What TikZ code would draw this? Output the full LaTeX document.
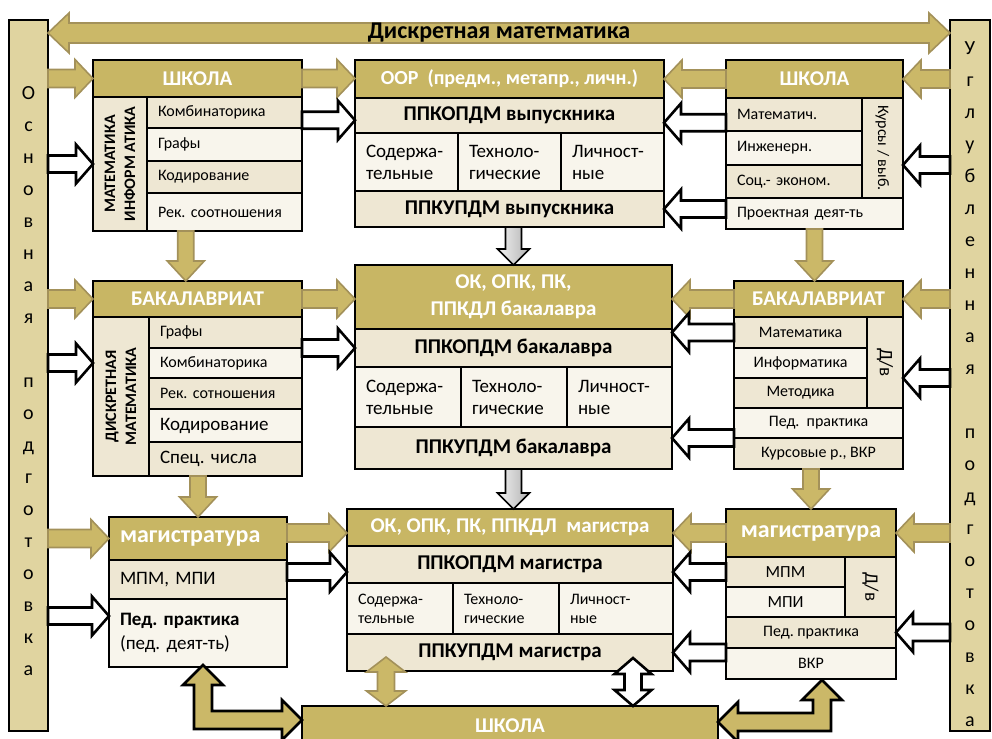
\documentclass[tikz,border=0pt]{standalone}
\usepackage{fontspec}
\setmainfont{Carlito}
\frenchspacing
\usetikzlibrary{calc,positioning}

\definecolor{hdrgold}{HTML}{C8B664}
\definecolor{rowdark}{HTML}{EEE7D3}
\definecolor{rowlight}{HTML}{F8F5EC}
\definecolor{barfill}{HTML}{E0D4A0}
\definecolor{arrgold}{HTML}{CBB868}
\definecolor{arrdark}{HTML}{A3915A}

\begin{document}
\begin{tikzpicture}[
    x=1pt, y=-1pt,
    box/.style={draw, line width=2.4pt, outer sep=0pt, inner sep=0pt, anchor=north west},
    hdr/.style={box, fill=hdrgold, text=white, align=center, font=\fontsize{21}{27}\selectfont\bfseries},
    rowa/.style={box, fill=rowdark},
    rowb/.style={box, fill=rowlight},
    lcell/.style={text width=#1, inner xsep=11pt, align=left},
    sidebar/.style={box, fill=barfill, line width=2.8pt, align=center, font=\fontsize{20}{32}\selectfont},
    txtsmall/.style={font=\fontsize{16}{19}\selectfont},
    txtmid/.style={font=\fontsize{19}{22}\selectfont},
    txtsub/.style={font=\fontsize{16}{19}\selectfont},
    txtbig/.style={font=\fontsize{19}{24}\selectfont},
    txtbold/.style={font=\fontsize{21}{25}\selectfont\bfseries},
    coltxt/.style={align=center, font=\fontsize{16}{20}\selectfont\bfseries},
    coltxtr/.style={font=\fontsize{16}{19}\selectfont},
    titletxt/.style={font=\fontsize{24}{28}\selectfont\bfseries},
    arr shaft/.store in=\arrshaft, arr head/.store in=\arrhead, arr len/.store in=\arrlen,
    arr shaft=9pt, arr head=19pt, arr len=18pt,
    single block/.style={to path={
      ($(\tikztostart)!\arrshaft!90:(\tikztotarget)$)
      -- ($(\tikztotarget)!\arrlen!(\tikztostart)!\arrshaft!-90:(\tikztostart)$)
      -- ($(\tikztotarget)!\arrlen!(\tikztostart)!\arrhead!-90:(\tikztostart)$)
      -- (\tikztotarget)
      -- ($(\tikztotarget)!\arrlen!(\tikztostart)!\arrhead!90:(\tikztostart)$)
      -- ($(\tikztotarget)!\arrlen!(\tikztostart)!\arrshaft!90:(\tikztostart)$)
      -- ($(\tikztostart)!\arrshaft!-90:(\tikztotarget)$)
      -- cycle}},
    double block/.style={to path={
      -- ($(\tikztostart)!\arrlen!(\tikztotarget)!\arrhead!-90:(\tikztostart)$)
      -- ($(\tikztostart)!\arrlen!(\tikztotarget)!\arrshaft!-90:(\tikztostart)$)
      -- ($(\tikztotarget)!\arrlen!(\tikztostart)!\arrshaft!-90:(\tikztostart)$)
      -- ($(\tikztotarget)!\arrlen!(\tikztostart)!\arrhead!-90:(\tikztostart)$)
      -- (\tikztotarget)
      -- ($(\tikztotarget)!\arrlen!(\tikztostart)!\arrhead!90:(\tikztostart)$)
      -- ($(\tikztotarget)!\arrlen!(\tikztostart)!\arrshaft!90:(\tikztostart)$)
      -- ($(\tikztostart)!\arrlen!(\tikztotarget)!\arrshaft!90:(\tikztostart)$)
      -- ($(\tikztostart)!\arrlen!(\tikztotarget)!\arrhead!90:(\tikztostart)$)
      -- cycle}},
    goldarr/.style={single block, fill=arrgold, draw=arrdark, line width=1.6pt, line join=miter},
    golddbl/.style={double block, fill=arrgold, draw=arrdark, line width=1.6pt, line join=miter, arr head=19.5pt, arr len=15pt},
    whitearr/.style={single block, fill=white, draw=black, line width=2.6pt, line join=miter, arr shaft=8.5pt, arr head=19.5pt, arr len=17pt},
    whitedbl/.style={double block, fill=white, draw=black, line width=2.6pt, line join=miter, arr shaft=8.5pt, arr head=18.5pt, arr len=16pt},
    grayarr/.style={single block, left color=gray!10, right color=gray!60, draw=black, line width=1.6pt, line join=miter, arr shaft=8pt, arr head=16pt, arr len=16pt},
    bentarr/.style={fill=arrgold, draw=black, line width=2.6pt, line join=miter}
]
\useasboundingbox (0,0) rectangle (992,738);

% Side bars
\node[sidebar, minimum width=39pt, minimum height=711pt] (barL) at (9,20)
  {\rule{0pt}{24pt}О\\с\\н\\о\\в\\н\\а\\я\\[32pt]п\\о\\д\\г\\о\\т\\о\\в\\к\\а};
\node[sidebar, minimum width=40pt, minimum height=711pt] (barR) at (950,20)
  {\rule{0pt}{30pt}У\\г\\л\\у\\б\\л\\е\\н\\н\\а\\я\\[32pt]п\\о\\д\\г\\о\\т\\о\\в\\к\\а};

% School (left)
\node[hdr, minimum width=209pt, minimum height=37pt] (tlh) at (93,60) {ШКОЛА};
\node[rowa, minimum width=54pt, minimum height=134pt] (tlc) at (tlh.south west) {};
\node[coltxt, rotate=90] (tlct) at (tlc.center) {МАТЕМАТИКА\\ИНФОРМ АТИКА};
\node[rowa, txtsmall, lcell=133pt, minimum height=31pt] (tl1) at (tlc.north east) {Комбинаторика};
\node[rowb, txtsmall, lcell=133pt, minimum height=33pt, below=0pt of tl1] (tl2) {Графы};
\node[rowa, txtsmall, lcell=133pt, minimum height=32pt, below=0pt of tl2] (tl3) {Кодирование};
\node[rowb, txtsmall, lcell=133pt, minimum height=38pt, below=0pt of tl3] (tl4) {Рек. соотношения};

% Graduate (top centre)
\node[hdr, font=\fontsize{20}{24}\selectfont\bfseries, minimum width=309pt, minimum height=38pt] (tch) at (355,60) {ООР\ \ (предм., метапр., личн.)};
\node[rowa, txtbold, minimum width=309pt, minimum height=35pt, below=0pt of tch] (tcp) {ППКОПДМ выпускника};
\node[rowb, txtmid, lcell=81pt, minimum height=58pt] (tc1) at (tcp.south west) {Содержа-\\тельные};
\node[rowb, txtmid, lcell=81pt, minimum height=58pt, right=0pt of tc1] (tc2) {Техноло-\\гические};
\node[rowb, txtmid, lcell=81pt, minimum height=58pt, right=0pt of tc2] (tc3) {Личност-\\ные};
\node[rowa, txtbold, minimum width=309pt, minimum height=36pt] (tcb) at (tc1.south west) {ППКУПДМ выпускника};

% School (right)
\node[hdr, minimum width=177pt, minimum height=38pt] (trh) at (726,60) {ШКОЛА};
\node[rowa, txtsmall, lcell=114pt, minimum height=33pt] (tr1) at (trh.south west) {Математич.};
\node[rowb, txtsmall, lcell=114pt, minimum height=34pt, below=0pt of tr1] (tr2) {Инженерн.};
\node[rowa, txtsmall, lcell=114pt, minimum height=33pt, below=0pt of tr2] (tr3) {Соц.- эконом.};
\node[rowa, minimum width=41pt, minimum height=100pt] (trc) at (tr1.north east) {};
\node[coltxtr, rotate=-90] (trct) at (trc.center) {Курсы / выб.};
\node[rowb, txtsmall, lcell=155pt, minimum height=31pt] (tr4) at (tr3.south west) {Проектная деят-ть};

% Bachelor (left)
\node[hdr, minimum width=209pt, minimum height=36pt] (mlh) at (93,281) {БАКАЛАВРИАТ};
\node[rowa, minimum width=56pt, minimum height=159pt] (mlc) at (mlh.south west) {};
\node[coltxt, rotate=90] (mlct) at (mlc.center) {ДИСКРЕТНАЯ\\МАТЕМАТИКА};
\node[rowa, txtsmall, lcell=131pt, minimum height=31pt] (ml1) at (mlc.north east) {Графы};
\node[rowb, txtsmall, lcell=131pt, minimum height=30pt, below=0pt of ml1] (ml2) {Комбинаторика};
\node[rowa, txtsmall, lcell=131pt, minimum height=31pt, below=0pt of ml2] (ml3) {Рек. сотношения};
\node[rowb, txtbig, lcell=131pt, minimum height=33pt, below=0pt of ml3] (ml4) {Кодирование};
\node[rowa, txtbig, lcell=131pt, minimum height=34pt, below=0pt of ml4] (ml5) {Спец. числа};

% Bachelor (centre)
\node[hdr, minimum width=317pt, minimum height=64pt] (mch) at (355,265) {ОК, ОПК, ПК,\\ППКДЛ бакалавра};
\node[rowa, txtbold, minimum width=317pt, minimum height=38pt, below=0pt of mch] (mcp) {ППКОПДМ бакалавра};
\node[rowb, txtmid, lcell=84pt, minimum height=60pt] (mc1) at (mcp.south west) {Содержа-\\тельные};
\node[rowb, txtmid, lcell=84pt, minimum height=60pt, right=0pt of mc1] (mc2) {Техноло-\\гические};
\node[rowb, txtmid, lcell=83pt, minimum height=60pt, right=0pt of mc2] (mc3) {Личност-\\ные};
\node[rowa, txtbold, minimum width=317pt, minimum height=42pt] (mcb) at (mc1.south west) {ППКУПДМ бакалавра};

% Bachelor (right)
\node[hdr, minimum width=169pt, minimum height=36pt] (mrh) at (734,281) {БАКАЛАВРИАТ};
\node[rowa, txtsmall, minimum width=133pt, minimum height=31pt] (mr1) at (mrh.south west) {Математика};
\node[rowb, txtsmall, minimum width=133pt, minimum height=30pt, below=0pt of mr1] (mr2) {Информатика};
\node[rowa, txtsmall, minimum width=133pt, minimum height=30pt, below=0pt of mr2] (mr3) {Методика};
\node[rowa, minimum width=36pt, minimum height=91pt] (mrc) at (mr1.north east) {};
\node[coltxtr, font=\fontsize{19}{22}\selectfont, rotate=-90] (mrct) at (mrc.center) {Д/в};
\node[rowb, txtsmall, minimum width=169pt, minimum height=30pt] (mr4) at (mr3.south west) {Пед.\ \ практика};
\node[rowa, txtsmall, minimum width=169pt, minimum height=31pt, below=0pt of mr4] (mr5) {Курсовые р., ВКР};

% Master (left)
\node[hdr, font=\fontsize{24}{28}\selectfont\bfseries, lcell=156pt, minimum height=43pt] (blh) at (109,517) {магистратура};
\node[rowa, txtbig, lcell=156pt, minimum height=39pt, below=0pt of blh] (bl1) {МПМ, МПИ};
\node[rowb, txtbig, lcell=156pt, minimum height=68pt, below=0pt of bl1] (bl2) {\textbf{Пед. практика}\\(пед. деят-ть)};

% Master (centre)
\node[hdr, minimum width=326pt, minimum height=37pt] (bch) at (347,509) {ОК, ОПК, ПК, ППКДЛ\ \ магистра};
\node[rowa, txtbold, minimum width=326pt, minimum height=37pt, below=0pt of bch] (bcp) {ППКОПДМ магистра};
\node[rowb, txtsub, lcell=84pt, minimum height=51pt] (bc1) at (bcp.south west) {Содержа-\\тельные};
\node[rowb, txtsub, lcell=84pt, minimum height=51pt, right=0pt of bc1] (bc2) {Техноло-\\гические};
\node[rowb, txtsub, lcell=92pt, minimum height=51pt, right=0pt of bc2] (bc3) {Личност-\\ные};
\node[rowa, txtbold, minimum width=326pt, minimum height=37pt] (bcb) at (bc1.south west) {ППКУПДМ магистра};

% Master (right)
\node[hdr, font=\fontsize{24}{28}\selectfont\bfseries, minimum width=170pt, minimum height=48pt] (brh) at (726,509) {магистратура};
\node[rowa, font=\fontsize{17}{20}\selectfont, minimum width=119pt, minimum height=30pt] (br1) at (brh.south west) {МПМ};
\node[rowb, font=\fontsize{17}{20}\selectfont, minimum width=119pt, minimum height=30pt, below=0pt of br1] (br2) {МПИ};
\node[rowa, minimum width=51pt, minimum height=60pt] (brc) at (br1.north east) {};
\node[coltxtr, font=\fontsize{19}{22}\selectfont, rotate=-90] (brct) at (brc.center) {Д/в};
\node[rowa, txtsmall, minimum width=170pt, minimum height=31pt] (br3) at (br2.south west) {Пед. практика};
\node[rowb, txtsmall, minimum width=170pt, minimum height=31pt, below=0pt of br3] (br4) {ВКР};

% School (bottom)
\node[hdr, minimum width=416pt, minimum height=40pt] (sch) at (302,706) {ШКОЛА};

% Title arrow
\coordinate (ttlL) at ($(barL.north east)+(0,13)$);
\coordinate (ttlR) at (ttlL -| barR.west);
\draw[golddbl, arr shaft=10pt, arr head=20pt, arr len=21pt] (ttlL) to (ttlR);
\node[titletxt] (title) at ($(ttlL)!.5!(ttlR)$) {Дискретная матетматика};

% Helper points
\coordinate (kombOut) at ($(tl1.east)!.5!(tl1.south east)$);
\coordinate (matOut) at ($(tr1.west)!.5!(tr1.south west)$);
\coordinate (tlDown) at ($(tlc.south east)!.5!(tl4.south)$);
\coordinate (pedIn) at ($(bl2.north west)!.5!(bl2.west)$);
\coordinate (mpmOut) at ($(bl1.east)!.5!(bl1.east |- bcp.west)$);
\coordinate (magOut) at ($(blh.east)!.5!(blh.east |- bch.west)$);
\coordinate (gdTop) at ($(bcb.south west)+(39,-14)$);
\coordinate (wdTop) at ($(bcb.south east)+(-40,-13)$);
\coordinate (lT) at ($(bl2.south west)+(94,-2)$);
\coordinate (lE) at ($(sch.north west)+(0,14)$);
\coordinate (rT) at ($(br4.south)+(11,1)$);
\coordinate (rE) at ($(sch.north east)+(0,16)$);

% Gold arrows
\draw[goldarr] (barL.east |- tlh.west) to (tlh.west);
\draw[goldarr] (tlh.east) to (tlh.east -| tch.west);
\draw[goldarr] (trh.west) to (trh.west -| tch.east);
\draw[goldarr] (barR.west |- trh.east) to (trh.east);
\draw[goldarr] (barL.east |- mlh.west) to (mlh.west);
\draw[goldarr] (mlh.east) to (mlh.east -| mch.west);
\draw[goldarr] (mrh.west) to (mrh.west -| mch.east);
\draw[goldarr] (barR.west |- mrh.east) to (mrh.east);
\draw[goldarr] (barL.east |- blh.west) to (blh.west);
\draw[goldarr] (magOut) to (magOut -| bch.west);
\draw[goldarr] (brh.west) to (brh.west -| bch.east);
\draw[goldarr] (barR.west |- brh.east) to (brh.east);

% Gold arrows down
\draw[goldarr, arr shaft=8pt, arr head=18.5pt, arr len=20pt] (tlDown) to (tlDown |- mlh.north);
\draw[goldarr, arr shaft=8pt, arr head=18.5pt, arr len=20pt] (ml5.south -| blh.north) to (blh.north);
\draw[goldarr, arr shaft=8pt, arr head=18.5pt, arr len=20pt] (tr4.south) to (tr4.south |- mrh.north);
\draw[goldarr, arr shaft=8pt, arr head=18.5pt, arr len=20pt] (mr5.south -| brh.north) to (brh.north);

% Gray arrows down
\draw[grayarr] (tcb.south -| mch.north) to (mch.north);
\draw[grayarr] (mcb.south) to (mcb.south |- bch.north);

% White arrows
\draw[whitearr] (barL.east |- tlc.west) to (tlc.west);
\draw[whitearr] (kombOut) to (kombOut -| tcp.west);
\draw[whitearr] (matOut) to (matOut -| tcp.east);
\draw[whitearr] (tr4.west |- tcb.east) to (tcb.east);
\draw[whitearr] (barR.west |- tr2.south) to (trc.east |- tr2.south);
\draw[whitearr] (barL.east |- ml2.east) to (ml2.east -| mlc.west);
\draw[whitearr] (ml1.east |- mcp.west) to (mcp.west);
\draw[whitearr] (mr1.west) to (mr1.west -| mcp.east);
\draw[whitearr] (mr4.south west) to (mr4.south west -| mcb.east);
\draw[whitearr] (barR.west |- mr2.south) to (mr2.south -| mrc.east);
\draw[whitearr] (barL.east |- pedIn) to (pedIn);
\draw[whitearr] (mpmOut) to (mpmOut -| bcp.west);
\draw[whitearr] (br1.west) to (br1.west -| bcp.east);
\draw[whitearr] (br3.south west |- bcb.east) to (bcb.east);
\draw[whitearr] (barR.west |- br3.east) to (br3.east);

% Links to the school
\draw[golddbl, arr shaft=8.5pt] (gdTop) to (gdTop |- sch.north);
\draw[whitedbl] (wdTop) to (wdTop |- sch.north);
\draw[bentarr] let \p1=(lT), \p2=(lE) in
  (\p1) -- (\x1+20pt,\y1-20pt) -- (\x1+9pt,\y1-20pt) -- (\x1+9pt,\y2+9pt)
  -- (\x2-20pt,\y2+9pt) -- (\x2-20pt,\y2+20pt) -- (\p2) -- (\x2-20pt,\y2-20pt)
  -- (\x2-20pt,\y2-9pt) -- (\x1-9pt,\y2-9pt) -- (\x1-9pt,\y1-20pt) -- (\x1-20pt,\y1-20pt) -- cycle;
\draw[bentarr] let \p1=(rT), \p2=(rE) in
  (\p1) -- (\x1+20pt,\y1-20pt) -- (\x1+9pt,\y1-20pt) -- (\x1+9pt,\y2-9pt)
  -- (\x2+20pt,\y2-9pt) -- (\x2+20pt,\y2-20pt) -- (\p2) -- (\x2+20pt,\y2+20pt)
  -- (\x2+20pt,\y2+9pt) -- (\x1-9pt,\y2+9pt) -- (\x1-9pt,\y1-20pt) -- (\x1-20pt,\y1-20pt) -- cycle;

\end{tikzpicture}
\end{document}
